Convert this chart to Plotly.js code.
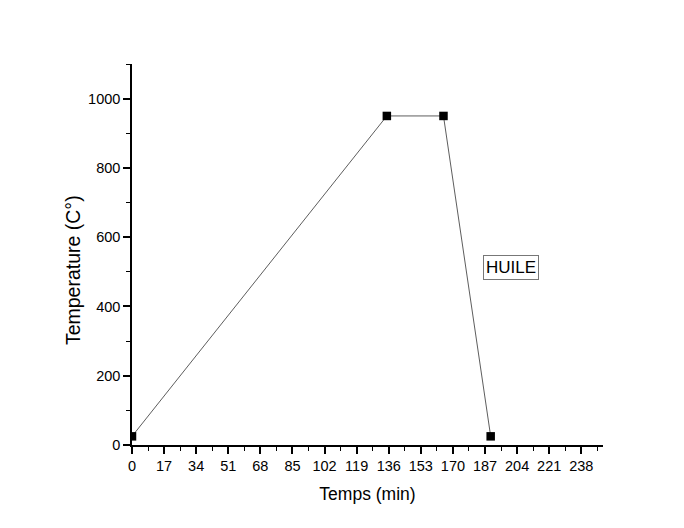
<!DOCTYPE html>
<html><head><meta charset="utf-8">
<script src="https://cdn.plot.ly/plotly-3.0.1.min.js"></script>
<style>body{margin:0;background:#fff}#c{width:684px;height:528px}</style>
</head><body><div id="c"></div>
<script>
const timeMin = [0, 135, 165, 190];
const tempC = [25, 950, 950, 25];
const xTicks = [0, 17, 34, 51, 68, 85, 102, 119, 136, 153, 170, 187, 204, 221, 238];
const yTicks = [0, 200, 400, 600, 800, 1000];
const labelText = 'HUILE';
const xTitle = 'Temps (min)';
const yTitle = 'Temperature (C°)';

const font = {family: 'Liberation Sans, Arial, sans-serif', color: '#000'};
Plotly.newPlot('c', [{
  x: timeMin, y: tempC, mode: 'lines+markers', type: 'scatter',
  line: {color: '#333', width: 0.8},
  marker: {symbol: 'square', size: 8.5, color: '#000'},
  cliponaxis: true
}], {
  width: 684, height: 528,
  margin: {l: 132, r: 81, t: 64, b: 83},
  paper_bgcolor: '#fff', plot_bgcolor: '#fff',
  showlegend: false,
  font: font,
  xaxis: {
    range: [0, 249.5], tickvals: xTicks, ticktext: xTicks.map(String),
    showgrid: false, zeroline: false, showline: true, linecolor: '#000', linewidth: 1.5,
    ticks: 'outside', ticklen: 7, tickwidth: 1.5, tickcolor: '#000',
    minor: {dtick: 8.5, tick0: 0, ticks: 'outside', ticklen: 4, tickwidth: 1, tickcolor: '#000', showgrid: false},
    tickfont: {size: 14.5, family: font.family},
    title: {text: xTitle, font: {size: 17.5, family: font.family}, standoff: 15}
  },
  yaxis: {
    range: [0, 1100], tickvals: yTicks, ticktext: yTicks.map(String),
    showgrid: false, zeroline: false, showline: true, linecolor: '#000', linewidth: 1.5,
    ticks: 'outside', ticklen: 7, tickwidth: 1.5, tickcolor: '#000',
    minor: {dtick: 100, tick0: 0, ticks: 'outside', ticklen: 4, tickwidth: 1, tickcolor: '#000', showgrid: false},
    tickfont: {size: 14.5, family: font.family}
  },
  annotations: [{
    x: 200.5, y: 513, xref: 'x', yref: 'y', text: labelText, showarrow: false,
    font: {size: 17, family: font.family, color: '#000'},
    bordercolor: '#777', borderwidth: 1, borderpad: 2, bgcolor: '#fff'
  }, {
    x: -0.1253, y: 0.459, xref: 'paper', yref: 'paper', text: yTitle, showarrow: false,
    textangle: -90, xanchor: 'center', yanchor: 'middle',
    font: {size: 19.5, family: font.family, color: '#000'}
  }]
}, {displayModeBar: false});
</script></body></html>
